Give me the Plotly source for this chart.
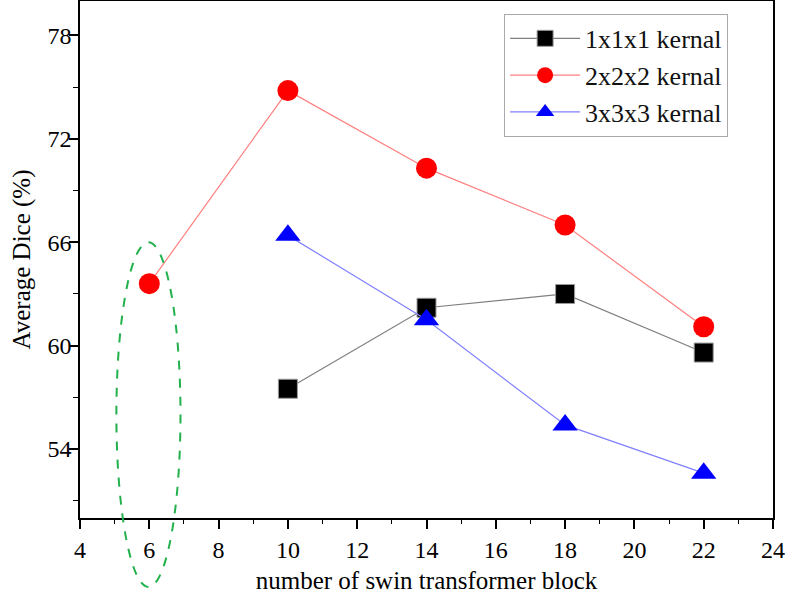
import plotly.graph_objects as go

# Data
x_k1 = [10, 14, 18, 22]
y_k1 = [57.5, 62.2, 63.0, 59.6]
x_k2 = [6, 10, 14, 18, 22]
y_k2 = [63.6, 74.8, 70.3, 67.0, 61.1]
x_k3 = [10, 14, 18, 22]
y_k3 = [66.4, 61.5, 55.4, 52.6]
names = ["1x1x1 kernal", "2x2x2 kernal", "3x3x3 kernal"]

x_range = [4, 24]
y_range = [50, 80]

font_family = "Liberation Serif"

fig = go.Figure()
fig.add_trace(go.Scatter(
    x=x_k1, y=y_k1, name=names[0], mode="lines+markers",
    line=dict(color="#7f7f7f", width=1.2),
    marker=dict(symbol="square", size=19, color="black",
                line=dict(color="#9a9a9a", width=1)),
))
fig.add_trace(go.Scatter(
    x=x_k2, y=y_k2, name=names[1], mode="lines+markers",
    line=dict(color="#ff7f7f", width=1.2),
    marker=dict(symbol="circle", size=21, color="#ff0000", line=dict(width=0)),
))
fig.add_trace(go.Scatter(
    x=x_k3, y=y_k3, name=names[2], mode="lines+markers",
    line=dict(color="#8080ff", width=1.2),
    marker=dict(symbol="triangle-up", size=22, color="#0000ff", line=dict(width=0)),
))

# green dashed ellipse around x=6 (extends below the axis)
def xp(v):
    return (v - x_range[0]) / (x_range[1] - x_range[0])

def yp(v):
    return (v - y_range[0]) / (y_range[1] - y_range[0])

fig.add_shape(
    type="circle", xref="paper", yref="paper",
    x0=xp(5.05), x1=xp(6.9), y0=yp(46.0), y1=yp(66.0),
    line=dict(color="#22b14c", width=2, dash="dash"),
    fillcolor="rgba(0,0,0,0)", layer="above",
)

axis_common = dict(
    showgrid=False, zeroline=False, showline=True, linecolor="black",
    linewidth=1.6, mirror=True, ticks="outside", ticklen=9, tickwidth=1.6,
    tickcolor="black", automargin=False,
    tickfont=dict(family=font_family, size=24, color="black"),
)

fig.update_xaxes(
    range=x_range, tick0=4, dtick=2,
    minor=dict(ticks="outside", ticklen=4, tickwidth=1.4, dtick=1, tickcolor="black"),
    title=dict(text="number of swin transformer block",
               font=dict(family=font_family, size=25, color="black"), standoff=10),
    **axis_common,
)
fig.update_yaxes(
    range=y_range, tick0=54, dtick=6, ticklabelstandoff=-7,
    minor=dict(ticks="outside", ticklen=5, tickwidth=1.4, dtick=3, tickcolor="black"),
    title=dict(text="Average Dice (%)",
               font=dict(family=font_family, size=25, color="black"), standoff=10),
    **axis_common,
)

fig.update_layout(
    width=786, height=599,
    margin=dict(l=80, r=13, t=1, b=81),
    plot_bgcolor="white", paper_bgcolor="white",
    font=dict(family=font_family, size=25, color="black"),
    legend=dict(
        x=0.612, y=0.975, xanchor="left", yanchor="top",
        bgcolor="white", bordercolor="#aaaaaa", borderwidth=1,
        font=dict(family=font_family, size=26, color="#111111"),
        itemwidth=70, tracegroupgap=0,
    ),
    showlegend=True,
)

fig.write_html("out.html", config={"displayModeBar": False},
               post_script="document.body.style.margin='0px';")
